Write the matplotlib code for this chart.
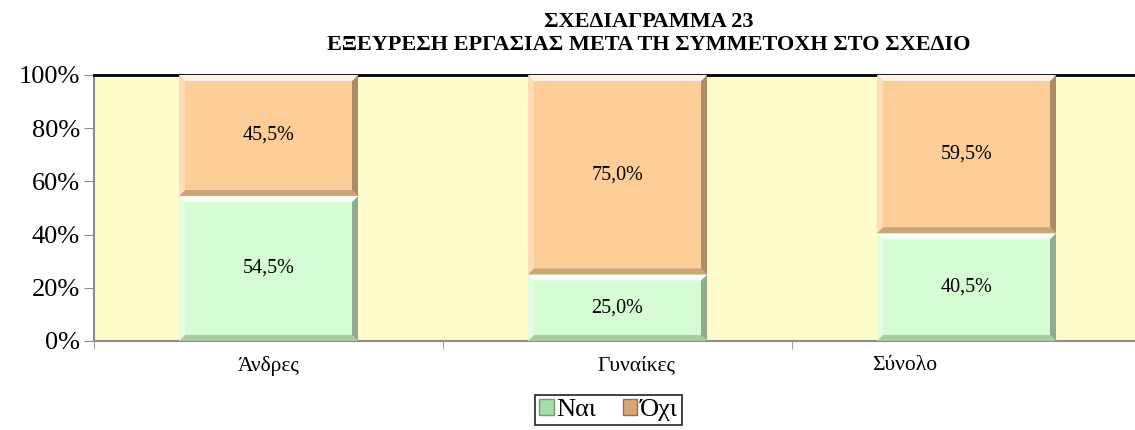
import numpy as np
import matplotlib.pyplot as plt
import matplotlib.colors as mc
from matplotlib.patches import Polygon, Patch

categories = ["Άνδρες", "Γυναίκες", "Σύνολο"]
nai = [54.5, 25.0, 40.5]
oxi = [45.5, 75.0, 59.5]
series_names = ["Ναι", "Όχι"]
yticks = [0, 20, 40, 60, 80, 100]

plt.rcParams["font.family"] = ["Liberation Serif", "DejaVu Serif"]

green = "#d6fcd4"
orange = "#fdcd98"
bg = "#fffccc"

fig = plt.figure(figsize=(11.35, 4.3), dpi=100)
ax = fig.add_axes([0.0828, 0.207, 0.9225, 0.6186])
ax.set_facecolor(bg)

x = np.arange(len(categories))
w = 0.513
b1 = ax.bar(x, nai, w, color=green, linewidth=0, zorder=2)
b2 = ax.bar(x, oxi, w, bottom=nai, color=orange, linewidth=0, zorder=2)

ax.set_xlim(-0.5, 2.5)
ax.set_ylim(0, 100)


def bevel(rect, base, d=6):
    # fake Excel-style bevel around a bar segment, in pixel space
    x0, y0 = rect.get_x(), rect.get_y()
    x1, y1 = x0 + rect.get_width(), y0 + rect.get_height()
    (px0, py0), (px1, py1) = ax.transData.transform([(x0, y0), (x1, y1)])
    inv = ax.transData.inverted()
    outer = [(px0, py0), (px1, py0), (px1, py1), (px0, py1)]
    inner = [(px0 + d, py0 + d), (px1 - d, py0 + d), (px1 - d, py1 - d), (px0 + d, py1 - d)]
    c = np.array(mc.to_rgb(base))
    light = c + (1 - c) * 0.75
    lightish = c + (1 - c) * 0.3
    dark = c * 0.68
    darkish = c * 0.8
    sides = [
        ([outer[0], outer[1], inner[1], inner[0]], darkish),  # bottom
        ([outer[1], outer[2], inner[2], inner[1]], dark),     # right
        ([outer[2], outer[3], inner[3], inner[2]], light),    # top
        ([outer[3], outer[0], inner[0], inner[3]], lightish), # left
    ]
    for pts, col in sides:
        ax.add_patch(Polygon(inv.transform(pts), closed=True, facecolor=col,
                             edgecolor="none", zorder=3))


fig.canvas.draw()
for r in b1:
    bevel(r, green)
for r in b2:
    bevel(r, orange)

for i in range(len(categories)):
    ax.text(x[i], nai[i] / 2, f"{nai[i]:.1f}%".replace(".", ","),
            ha="center", va="center", fontsize=14.5, zorder=4)
    ax.text(x[i], nai[i] + oxi[i] / 2, f"{oxi[i]:.1f}%".replace(".", ","),
            ha="center", va="center", fontsize=14.5, zorder=4)

ax.set_yticks(yticks)
ax.set_yticklabels([f"{t}%" for t in yticks], fontsize=19)
ax.tick_params(axis="y", direction="out", length=7, color="#8c8c8c", pad=3)

ax.set_xticks([])
ax.set_xticks([-0.5, 0.5, 1.5, 2.5], minor=True)
ax.tick_params(axis="x", which="minor", direction="out", length=6, color="#8c8c8c")
label_shift = [0.0, 0.053, -0.176]
for i, c in enumerate(categories):
    ax.text(x[i] + label_shift[i], -5.5, c, ha="center", va="top", fontsize=15.5)

for s in ["left", "bottom"]:
    ax.spines[s].set_color("#8c8c8c")
    ax.spines[s].set_linewidth(1.5)
ax.spines["top"].set_color("black")
ax.spines["top"].set_linewidth(2)
ax.spines["right"].set_visible(False)

fig.text(0.572, 0.972, "ΣΧΕΔΙΑΓΡΑΜΜΑ 23\nΕΞΕΥΡΕΣΗ ΕΡΓΑΣΙΑΣ ΜΕΤΑ ΤΗ ΣΥΜΜΕΤΟΧΗ ΣΤΟ ΣΧΕΔΙΟ",
         ha="center", va="top", fontsize=16, fontweight="bold", linespacing=1.2)

handles = [Patch(facecolor="#a8dcaa", edgecolor="#6f9c72"),
           Patch(facecolor="#d9a577", edgecolor="#9c6c45")]
leg = fig.legend(handles, series_names, loc="center", bbox_to_anchor=(0.536, 0.0465),
                 ncol=2, fontsize=19, frameon=True, fancybox=False, handlelength=0.55,
                 handleheight=0.55, handletextpad=0.1, columnspacing=1.0,
                 borderpad=0.15, borderaxespad=0)
leg.get_frame().set_edgecolor("black")
leg.get_frame().set_linewidth(1.3)

fig.savefig("out.png", dpi=100)
